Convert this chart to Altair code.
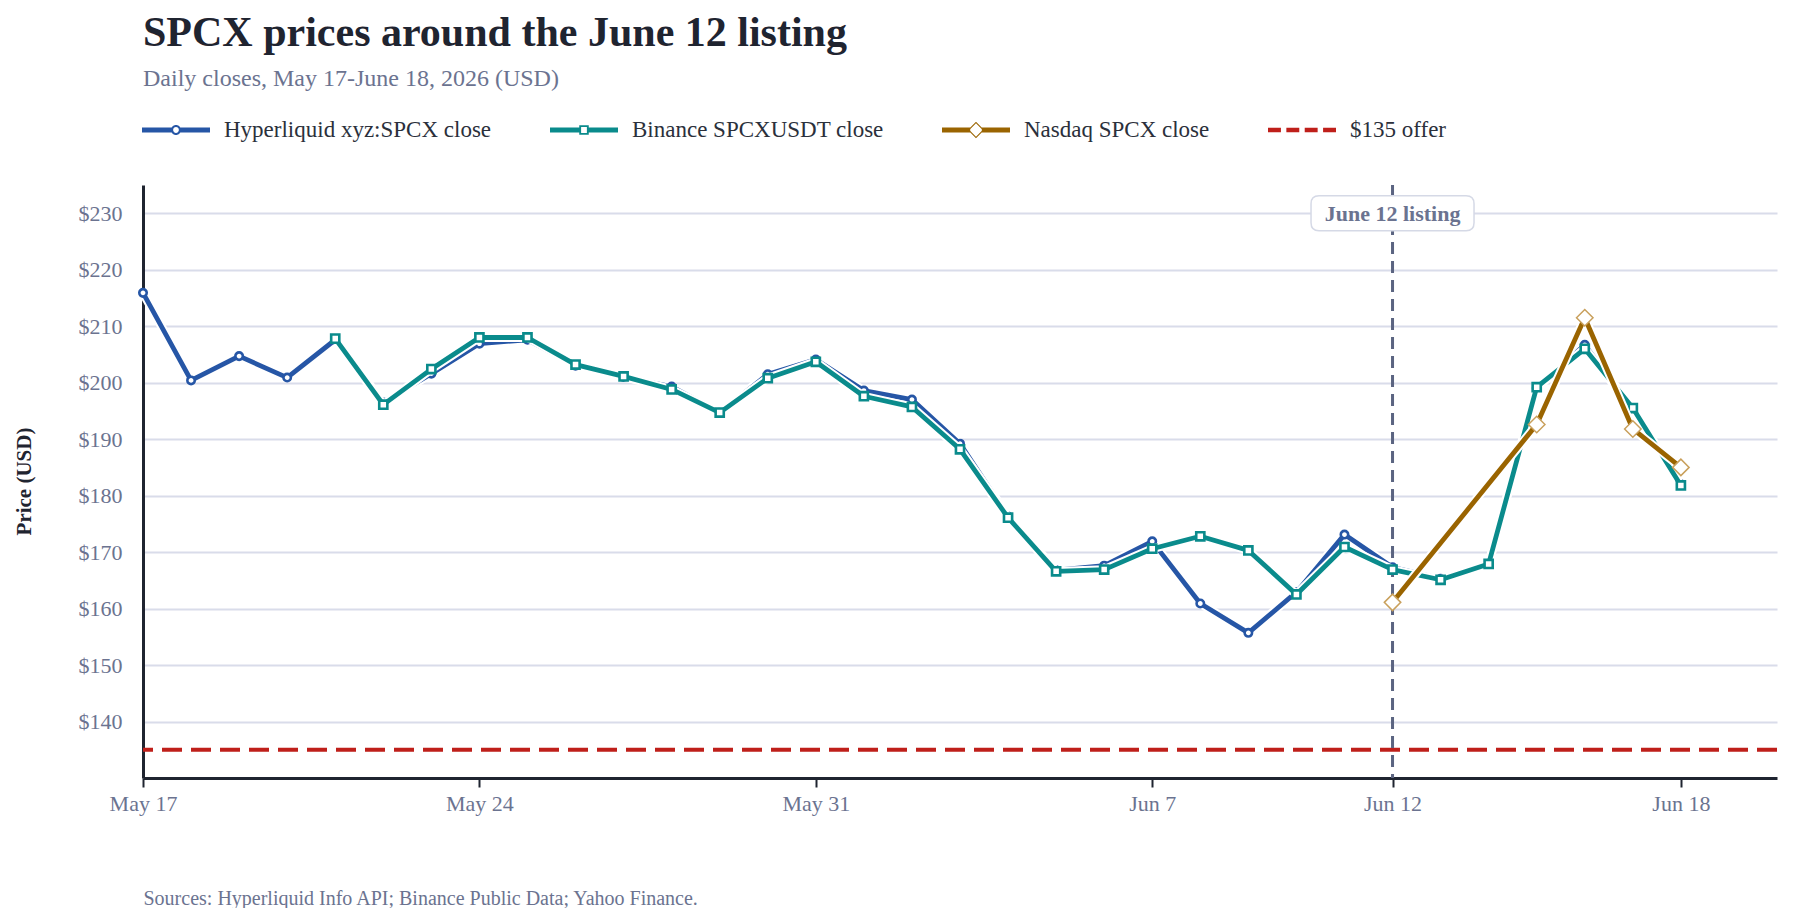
import altair as alt
import pandas as pd

# ---------------- data ----------------
dates = pd.date_range("2026-05-17", "2026-06-18").strftime("%Y-%m-%dT00:00:00").tolist()

hyperliquid = [215.9, 200.4, 204.7, 200.9, 207.6, 196.5, 201.6, 206.9, 207.6, 203.0,
               201.0, 199.3, 194.7, 201.5, 204.1,
               198.6, 197.0, 189.2, 176.3, 166.8, 167.6, 171.9, 160.9, 155.7, 162.9,
               173.1, 167.3, 165.3, 168.0, 199.0, 206.7, 195.3, 182.0]

binance = [None, None, None, None, 207.8, 196.1, 202.4, 208.0, 208.0, 203.2,
           201.1, 198.8, 194.7, 200.8, 203.7,
           197.6, 195.7, 188.2, 176.1, 166.6, 166.9, 170.6, 172.8, 170.3, 162.5,
           170.9, 166.9, 165.1, 167.9, 199.2, 206.0, 195.5, 181.8]

nasdaq_dates = ["2026-06-12T00:00:00", "2026-06-15T00:00:00", "2026-06-16T00:00:00",
                "2026-06-17T00:00:00", "2026-06-18T00:00:00"]
nasdaq = [161.1, 192.6, 211.5, 191.8, 185.0]

offer_price = [135]
listing_date = ["2026-06-12T00:00:00"]
listing_label = ["June 12 listing"]
label_price = [230]

series_names = ["Hyperliquid xyz:SPCX close", "Binance SPCXUSDT close",
                "Nasdaq SPCX close", "$135 offer"]
y_ticks = [140, 150, 160, 170, 180, 190, 200, 210, 220, 230]

# ---------------- styles ----------------
BLUE = "#2656a6"
TEAL = "#0a8b8c"
BROWN = "#9a6400"
TAN = "#c9a05c"
RED = "#bf1f1a"
SLATE = "#5b6481"
DARK = "#1f2430"
GRAY = "#6b7390"
GRID = "#d9dcea"
FONT = "Liberation Serif"

hl_df = pd.DataFrame({"date": dates, "price": hyperliquid})
bn_df = pd.DataFrame({"date": dates, "price": binance}).dropna()
nq_df = pd.DataFrame({"date": nasdaq_dates, "price": nasdaq})
offer_df = pd.DataFrame({"price": offer_price})
listing_df = pd.DataFrame({"date": listing_date, "price": label_price, "label": listing_label})
legend_df = pd.DataFrame({"series": series_names})

x_scale = alt.Scale(domain=[alt.DateTime(year=2026, month=5, date=17),
                            alt.DateTime(year=2026, month=6, date=20)])
y_scale = alt.Scale(domain=[130, 235], nice=False, zero=False)

x_ticks = [alt.DateTime(year=2026, month=5, date=17), alt.DateTime(year=2026, month=5, date=24),
           alt.DateTime(year=2026, month=5, date=31), alt.DateTime(year=2026, month=6, date=7),
           alt.DateTime(year=2026, month=6, date=12), alt.DateTime(year=2026, month=6, date=18)]

x_axis = alt.Axis(values=x_ticks, format="%b %-d", labelFont=FONT, labelFontSize=22,
                  labelColor=GRAY, tickColor=DARK, tickSize=9, tickWidth=2, labelFlush=False,
                  domainColor=DARK, domainWidth=3, grid=False, labelPadding=6,
                  title="Sources: Hyperliquid Info API; Binance Public Data; Yahoo Finance.",
                  titleFont=FONT, titleFontSize=20, titleFontWeight="normal", titleColor=GRAY,
                  titleAnchor="start", titleAlign="left", titleX=0, titleY=126,
                  titleBaseline="alphabetic")
y_axis = alt.Axis(values=y_ticks, format="$,.0f", labelFont=FONT, labelFontSize=22,
                  labelColor=GRAY, ticks=False, labelPadding=21, domainColor=DARK,
                  domainWidth=3, gridColor=GRID, gridWidth=2,
                  title="Price (USD)", titleFont=FONT, titleFontSize=21, titleFontWeight="bold",
                  titleColor=DARK, titleX=-119, titleY=296, titleAngle=270,
                  titleAlign="center", titleBaseline="middle")

X = alt.X("date:T", scale=x_scale, axis=x_axis)
Y = alt.Y("price:Q", scale=y_scale, axis=y_axis)
Xp = alt.X("date:T", scale=x_scale)
Yp = alt.Y("price:Q", scale=y_scale)

offer_rule = alt.Chart(offer_df).mark_rule(color=RED, strokeWidth=4, strokeDash=[20, 9]).encode(
    y=Y)
listing_rule = alt.Chart(listing_df).mark_rule(color=SLATE, strokeWidth=3, strokeDash=[12, 7]).encode(
    x=X)


def series_layers(df, color, width, point_mark):
    halo = alt.Chart(df).mark_line(color="white", strokeWidth=width + 4, strokeJoin="round",
                                   strokeCap="round").encode(x=Xp, y=Yp)
    line = alt.Chart(df).mark_line(color=color, strokeWidth=width, strokeJoin="round",
                                   strokeCap="round").encode(x=Xp, y=Yp)
    pts = alt.Chart(df).mark_point(**point_mark).encode(x=Xp, y=Yp)
    return [halo, line, pts]


blue_layers = series_layers(hl_df, BLUE, 4.8, dict(shape="circle", size=55, filled=True, fill="white",
                                                    stroke=BLUE, strokeWidth=2.6, opacity=1))
teal_layers = series_layers(bn_df, TEAL, 4.8, dict(shape="square", size=66, filled=True, fill="white",
                                                    stroke=TEAL, strokeWidth=2.6, opacity=1))
brown_layers = series_layers(nq_df, BROWN, 4.8, dict(shape="diamond", size=272, filled=True,
                                                      fill="white", stroke=TAN, strokeWidth=1.5,
                                                      opacity=1))

# annotation label box (rounded rectangle symbol) and text
box_path = ("M-0.902,-0.2147 L0.902,-0.2147 Q1,-0.2147 1,-0.1166 L1,0.1166 Q1,0.2147 0.902,0.2147 "
            "L-0.902,0.2147 Q-1,0.2147 -1,0.1166 L-1,-0.1166 Q-1,-0.2147 -0.902,-0.2147 Z")
label_box = alt.Chart(listing_df).mark_point(shape=box_path, size=26569, filled=True, fill="white",
                                             stroke="#d5d9e6", strokeWidth=1.5, opacity=1).encode(
    x=Xp, y=Yp)
label_text = alt.Chart(listing_df).mark_text(font=FONT, fontSize=22, fontWeight="bold", color=GRAY,
                                             align="center", baseline="middle", dy=1).encode(
    x=Xp, y=Yp, text="label:N")

# legend symbols: line + hollow marker, built as filled custom paths
line_l = "M-1,-0.07 L-0.13,-0.07 L-0.13,0.07 L-1,0.07 Z "
line_r = "M0.13,-0.07 L1,-0.07 L1,0.07 L0.13,0.07 Z "
circle_ring = ("M0.147,0 A0.147,0.147 0 1,1 -0.147,0 A0.147,0.147 0 1,1 0.147,0 Z "
               "M0.085,0 A0.085,0.085 0 1,0 -0.085,0 A0.085,0.085 0 1,0 0.085,0 Z")
sq_l = "M-1,-0.07 L-0.14,-0.07 L-0.14,0.07 L-1,0.07 Z "
sq_r = "M0.14,-0.07 L1,-0.07 L1,0.07 L0.14,0.07 Z "
square_ring = ("M-0.14,-0.14 L0.14,-0.14 L0.14,0.14 L-0.14,0.14 Z "
               "M-0.085,-0.085 L-0.085,0.085 L0.085,0.085 L0.085,-0.085 Z")
dm_l = "M-1,-0.07 L-0.17,-0.07 L-0.17,0.07 L-1,0.07 Z "
dm_r = "M0.17,-0.07 L1,-0.07 L1,0.07 L0.17,0.07 Z "
diamond_ring = ("M-0.24,0 L0,-0.24 L0.24,0 L0,0.24 Z "
                "M-0.195,0 L0,0.195 L0.195,0 L0,-0.195 Z")
dashes = ("M-1,-0.066 L-0.62,-0.066 L-0.62,0.066 L-1,0.066 Z "
          "M-0.46,-0.066 L-0.08,-0.066 L-0.08,0.066 L-0.46,0.066 Z "
          "M0.08,-0.066 L0.46,-0.066 L0.46,0.066 L0.08,0.066 Z "
          "M0.62,-0.066 L1,-0.066 L1,0.066 L0.62,0.066 Z")
legend_shapes = [line_l + line_r + circle_ring, sq_l + sq_r + square_ring,
                 dm_l + dm_r + diamond_ring, dashes]

legend_spec = alt.Legend(orient="none", legendX=-1, legendY=-89,
                         direction="horizontal", columns=4, title=None,
                         labelFont=FONT, labelFontSize=23, labelColor="#2b303b", labelLimit=0,
                         symbolSize=4624, symbolStrokeWidth=0, labelOffset=14,
                         columnPadding=58, padding=0, symbolOpacity=1)

legend_layer = alt.Chart(legend_df).mark_point(filled=True, opacity=1, size=4624,
                                               strokeWidth=0).encode(
    color=alt.Color("series:N", scale=alt.Scale(domain=series_names,
                                                range=[BLUE, TEAL, BROWN, RED]),
                    legend=legend_spec),
    shape=alt.Shape("series:N", scale=alt.Scale(domain=series_names, range=legend_shapes),
                    legend=legend_spec),
).transform_filter("false")

chart = alt.layer(
    offer_rule, listing_rule, *blue_layers, *teal_layers, *brown_layers,
    label_box, label_text, legend_layer
).properties(
    width=1634, height=593,
    padding={"left": 135, "top": 177, "right": 8, "bottom": 130},
    autosize=alt.AutoSizeParams(type="none"),
    background="white",
    title=alt.Title(text="SPCX prices around the June 12 listing",
                    subtitle="Daily closes, May 17-June 18, 2026 (USD)",
                    anchor="start", frame="group", font=FONT, fontSize=42, fontWeight="bold",
                    color=DARK, subtitleFont=FONT, subtitleFontSize=24, subtitleColor=GRAY,
                    subtitlePadding=12, offset=4),
).configure_view(stroke="transparent", strokeWidth=0)

chart.save("out.html", embed_options={"renderer": "svg", "actions": False})
